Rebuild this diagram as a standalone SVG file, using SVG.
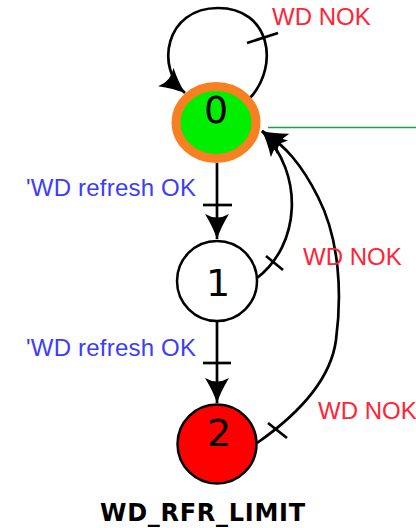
<svg xmlns="http://www.w3.org/2000/svg" width="416" height="528" viewBox="0 0 416 528">
  <style>
    .edge { fill: none; stroke: #000; stroke-width: 2.7; }
    .tick { stroke: #000; stroke-width: 2.7; }
    .state { stroke: #000; stroke-width: 2.5; }
    .num { font-family: "DejaVu Sans", sans-serif; font-size: 38px; fill: #000; text-anchor: middle; }
    .ok { font-family: "Liberation Sans", Arial, sans-serif; font-size: 24px; fill: #3c3cff; }
    .nok { font-family: "Liberation Sans", Arial, sans-serif; font-size: 24px; fill: #ff2436; }
    .title { font-family: "DejaVu Sans", sans-serif; font-size: 24px; font-weight: bold; fill: #000; text-anchor: middle; }
  </style>
  <defs>
    <marker id="arrow" markerUnits="userSpaceOnUse" viewBox="0 0 26 24" markerWidth="26" markerHeight="24" refX="25" refY="12" orient="auto">
      <path d="M25,12 Q13,8 0,0 Q7,12 0,24 Q13,16 25,12 Z" fill="#000"/>
    </marker>
  </defs>

  <rect width="416" height="528" fill="#fff"/>

  <!-- entry line into the initial state -->
  <line x1="268" y1="127.5" x2="416" y2="127.5" stroke="#1f9e48" stroke-width="1.5"/>

  <g id="connectors">
    <!-- 0 -> 0 : WD NOK -->
    <path class="edge" d="M250,98 C280,65 270,8 218,8 C165,8 155,68 185,93" marker-end="url(#arrow)"/>
    <line class="tick" x1="247" y1="43" x2="278" y2="33"/>
    <!-- 0 -> 1 : WD refresh OK -->
    <path class="edge" d="M217,163 L217,239" marker-end="url(#arrow)"/>
    <line class="tick" x1="203" y1="205" x2="232" y2="205"/>
    <!-- 1 -> 2 : WD refresh OK -->
    <path class="edge" d="M217,321 L217,403" marker-end="url(#arrow)"/>
    <line class="tick" x1="203" y1="363" x2="231" y2="363"/>
    <!-- 1 -> 0 : WD NOK -->
    <path class="edge" d="M257,278 C300,245 305,175 262,131" marker-end="url(#arrow)"/>
    <line class="tick" x1="266" y1="256" x2="283" y2="270"/>
    <!-- 2 -> 0 : WD NOK -->
    <path class="edge" d="M257,443 C290,420 330,385 336,340 C342,295 340,240 318,197 C302,165 285,145 262,131" marker-end="url(#arrow)"/>
    <line class="tick" x1="268" y1="423" x2="287" y2="438"/>

    <text class="nok" x="272" y="25">WD NOK</text>
    <text class="ok" x="26" y="196" textLength="170">'WD refresh OK</text>
    <text class="nok" x="303" y="265">WD NOK</text>
    <text class="ok" x="26" y="356" textLength="170">'WD refresh OK</text>
    <text class="nok" x="318" y="419">WD NOK</text>
  </g>

  <g id="state-0">
    <ellipse cx="216" cy="122.5" rx="40" ry="36" fill="#00ee00" stroke="#f98022" stroke-width="9"/>
    <text class="num" x="216" y="123">0</text>
  </g>

  <g id="state-1">
    <circle class="state" cx="217" cy="281" r="40" fill="#fff"/>
    <text class="num" x="218" y="296">1</text>
  </g>

  <g id="state-2">
    <circle class="state" cx="217" cy="444" r="39.5" fill="#ff0000"/>
    <text class="num" x="219" y="446">2</text>
  </g>

  <text class="title" x="202.5" y="521" textLength="205">WD_RFR_LIMIT</text>
</svg>
